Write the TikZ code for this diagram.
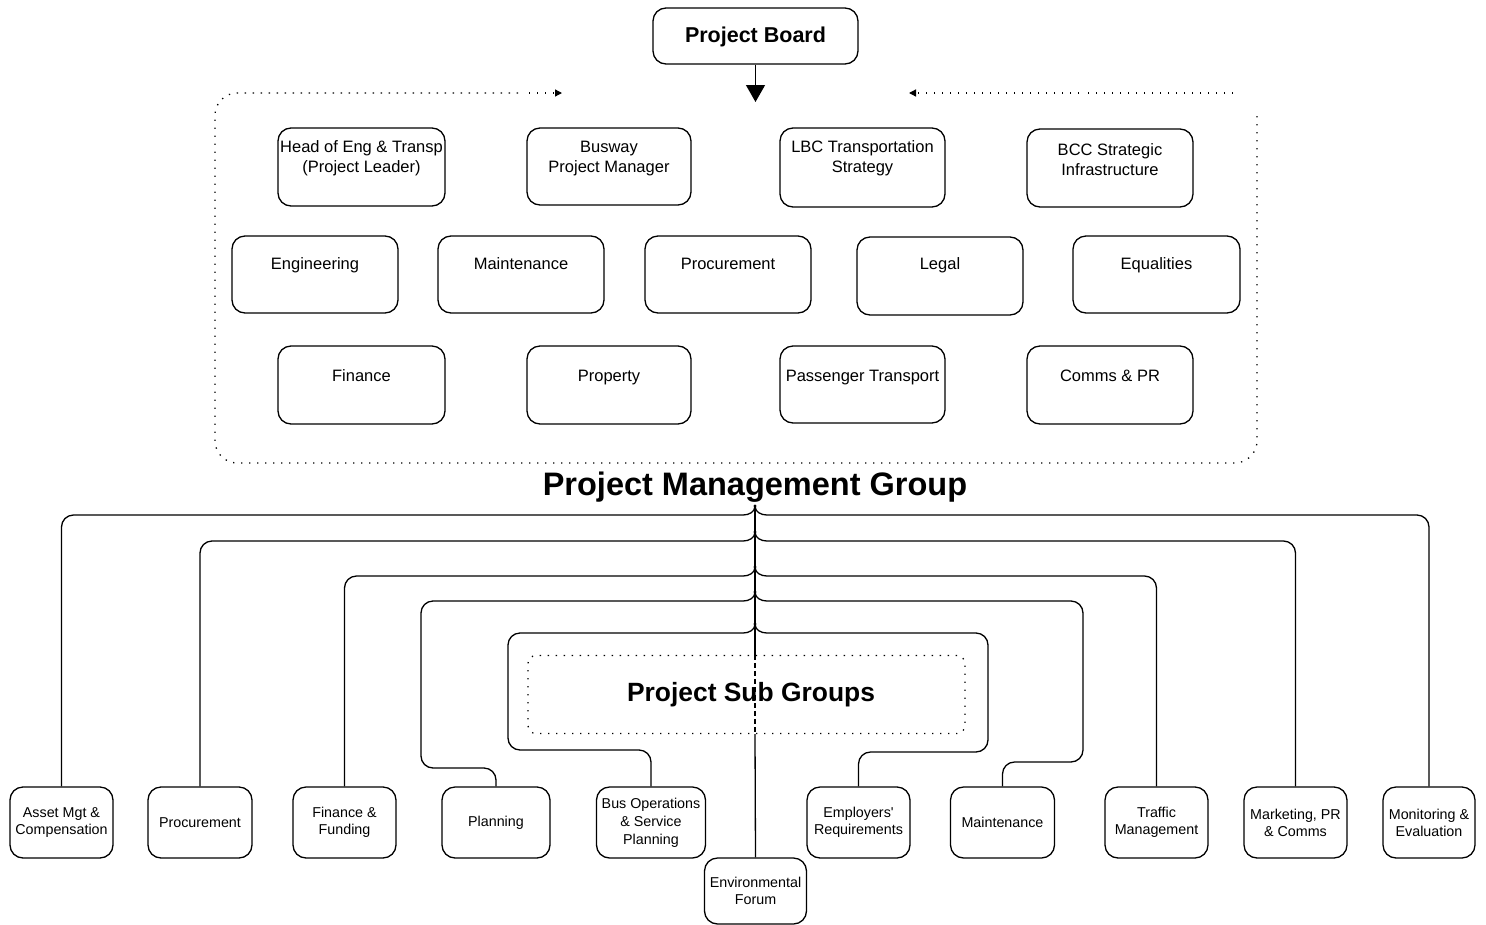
\documentclass[tikz,border=0pt]{standalone}
\usepackage{fontspec}
\setmainfont{Liberation Sans}
\usetikzlibrary{arrows.meta}
\begin{document}
\begin{tikzpicture}[x=1pt,y=-1pt,
  rbox/.style={draw, line width=1.3pt, rounded corners=13pt, inner sep=0pt},
  topbox/.style={rbox},
  toplbl/.style={font=\fontsize{16.5}{20}\selectfont, align=center, inner sep=0pt},
  oneline/.style={font=\fontsize{16.5}{20}\selectfont, inner sep=0pt, anchor=base},
  subbox/.style={rbox, minimum height=71pt, font=\fontsize{14.3}{17}\selectfont, align=center},
  conn/.style={line width=1.3pt},
  dots/.style={line width=1.3pt, dash pattern=on 1.3pt off 6.7pt},
  smalltip/.style={-{Triangle[length=7pt,width=7pt]}},
  title/.style={font=\bfseries, inner sep=0pt, anchor=base},
]
\fill[white] (0,0) rectangle (1486,924);
\useasboundingbox (0,0) rectangle (1486,924);

% ---------- Project Board ----------
\node[rbox, minimum width=205pt, minimum height=56pt] (pb) at (755.5,36) {};
\node[title, font=\bfseries\fontsize{21.5}{26}\selectfont] at (755.5,42) {Project Board};
\coordinate (pbtip) at (755.5,102);
\draw[conn, -{Triangle[length=17pt,width=19pt]}] (pb.south) -- (pbtip);

% ---------- dotted outline of the management group ----------
\coordinate (la) at (562,93);
\coordinate (ra) at (909,93);
\draw[dots] (518,93) -- (237,93) .. controls (225,93) and (215,103) .. (215,115)
  -- (215,441) .. controls (215,453) and (225,463) .. (237,463)
  -- (1235,463) .. controls (1247,463) and (1257,453) .. (1257,441) -- (1257,112);
\draw[dots, smalltip] (529,93) -- (la);
\draw[dots] (1233,93) -- (1088,93);
\draw[dots, smalltip] (1079,93) -- (ra);

% ---------- group members, row 1 ----------
\node[topbox, minimum width=167pt, minimum height=78pt] (hel) at (361.5,167) {};
\node[topbox, minimum width=164pt, minimum height=77pt] (bpm) at (609,166.5) {};
\node[topbox, minimum width=165pt, minimum height=79pt] (lbc) at (862.5,167.5) {};
\node[topbox, minimum width=166pt, minimum height=78pt] (bcc) at (1110,168) {};
\node[toplbl] at ([yshift=-31pt]hel.north) {Head of Eng \& Transp\\(Project Leader)};
\node[toplbl] at ([yshift=-31pt]bpm.north) {Busway\\Project Manager};
\node[toplbl] at ([yshift=-31pt]lbc.north) {LBC Transportation\\Strategy};
\node[toplbl] at ([yshift=-31pt]bcc.north) {BCC Strategic\\Infrastructure};

% ---------- row 2 ----------
\node[topbox, minimum width=166pt, minimum height=77pt] (eng) at (315,274.5) {};
\node[topbox, minimum width=166pt, minimum height=77pt] (mnt) at (521,274.5) {};
\node[topbox, minimum width=166pt, minimum height=77pt] (prc) at (728,274.5) {};
\node[topbox, minimum width=166pt, minimum height=78pt] (leg) at (940,276) {};
\node[topbox, minimum width=167pt, minimum height=77pt] (eql) at (1156.5,274.5) {};
\node[oneline] at ([yshift=-34pt]eng.north) {Engineering};
\node[oneline] at ([yshift=-34pt]mnt.north) {Maintenance};
\node[oneline] at ([yshift=-34pt]prc.north) {Procurement};
\node[oneline] at ([yshift=-33pt]leg.north) {Legal};
\node[oneline] at ([yshift=-34pt]eql.north) {Equalities};

% ---------- row 3 ----------
\node[topbox, minimum width=167pt, minimum height=78pt] (fin) at (361.5,385) {};
\node[topbox, minimum width=164pt, minimum height=78pt] (prp) at (609,385) {};
\node[topbox, minimum width=165pt, minimum height=77pt] (pas) at (862.5,384.5) {};
\node[topbox, minimum width=166pt, minimum height=78pt] (com) at (1110,385) {};
\node[oneline] at ([yshift=-36pt]fin.north) {Finance};
\node[oneline] at ([yshift=-36pt]prp.north) {Property};
\node[oneline] at ([yshift=-36pt]pas.north) {Passenger Transport};
\node[oneline] at ([yshift=-36pt]com.north) {Comms \& PR};

\node[title, font=\bfseries\fontsize{32.5}{38}\selectfont] (pmg) at (755,495) {Project Management Group};

% ---------- sub groups ----------
\node[subbox, minimum width=103pt] (ast) at (61.5,822.5) {Asset Mgt \&\\Compensation};
\node[subbox, minimum width=104pt] (prc2) at (200,822.5) {Procurement};
\node[subbox, minimum width=103pt] (fnf) at (344.5,822.5) {Finance \&\\Funding};
\node[subbox, minimum width=108pt] (pln) at (496,822.5) {Planning};
\node[subbox, minimum width=109pt, font=\fontsize{14.3}{18}\selectfont] (bus) at (651,822.5) {Bus Operations\\\& Service\\Planning};
\node[subbox, minimum width=103pt] (emp) at (858.5,822.5) {Employers\textquotesingle\\Requirements};
\node[subbox, minimum width=104pt] (mnt2) at (1002.5,822.5) {Maintenance};
\node[subbox, minimum width=103pt] (trf) at (1156.5,822.5) {Traffic\\Management};
\node[subbox, minimum width=103pt] (mkt) at (1295.5,822.5) {Marketing, PR\\\& Comms};
\node[subbox, minimum width=92pt] (mon) at (1429,822.5) {Monitoring \&\\Evaluation};
\node[subbox, minimum width=102pt, minimum height=66pt] (env) at (755.5,891) {Environmental\\Forum};

% dotted frame of the sub groups title
\node[dots, draw, rounded corners=8pt, minimum width=437pt, minimum height=78pt, inner sep=0pt] (sg) at (746.5,694.5) {};
\node[title, font=\bfseries\fontsize{26.4}{31}\selectfont] at (751,701) {Project Sub Groups};

% ---------- trunk and its junctions ----------
\coordinate (j1) at (755,506);
\coordinate (j2) at (755,532);
\coordinate (j3) at (755,567);
\coordinate (j4) at (755,592);
\coordinate (j5) at (755,624);
\draw[conn] (j1) -- (j1 |- sg.north);
\draw[conn, dash pattern=on 5pt off 3pt] (j1 |- sg.north) -- (j1 |- sg.south);
\draw[conn] (j1 |- sg.south) -- (env.north);

% level 1
\draw[conn] (j1) .. controls +(0,6) and +(6,0) .. (743,515) [rounded corners=12pt] -| (ast.north);
\draw[conn] (j1) .. controls +(0,6) and +(-6,0) .. (767,515) [rounded corners=12pt] -| (mon.north);
% level 2
\draw[conn] (j2) .. controls +(0,6) and +(6,0) .. (743,541) [rounded corners=12pt] -| (prc2.north);
\draw[conn] (j2) .. controls +(0,6) and +(-6,0) .. (767,541) [rounded corners=12pt] -| (mkt.north);
% level 3
\draw[conn] (j3) .. controls +(0,6) and +(6,0) .. (743,576) [rounded corners=12pt] -| (fnf.north);
\draw[conn] (j3) .. controls +(0,6) and +(-6,0) .. (767,576) [rounded corners=12pt] -| (trf.north);
% level 4
\draw[conn] (j4) .. controls +(0,6) and +(6,0) .. (743,601) [rounded corners=12pt]
  -- (421,601) -- (421,768) -| (pln.north);
\draw[conn] (j4) .. controls +(0,6) and +(-6,0) .. (767,601) [rounded corners=12pt]
  -- (1083,601) -- (1083,762) -| (mnt2.north);
% level 5
\draw[conn] (j5) .. controls +(0,6) and +(6,0) .. (743,633) [rounded corners=12pt]
  -- (508,633) -- (508,750) -| (bus.north);
\draw[conn] (j5) .. controls +(0,6) and +(-6,0) .. (767,633) [rounded corners=12pt]
  -- (988,633) -- (988,752) -| (emp.north);

\foreach \j in {j1,j2,j3,j4,j5} \fill (\j) circle[radius=1.6pt];
\end{tikzpicture}
\end{document}
